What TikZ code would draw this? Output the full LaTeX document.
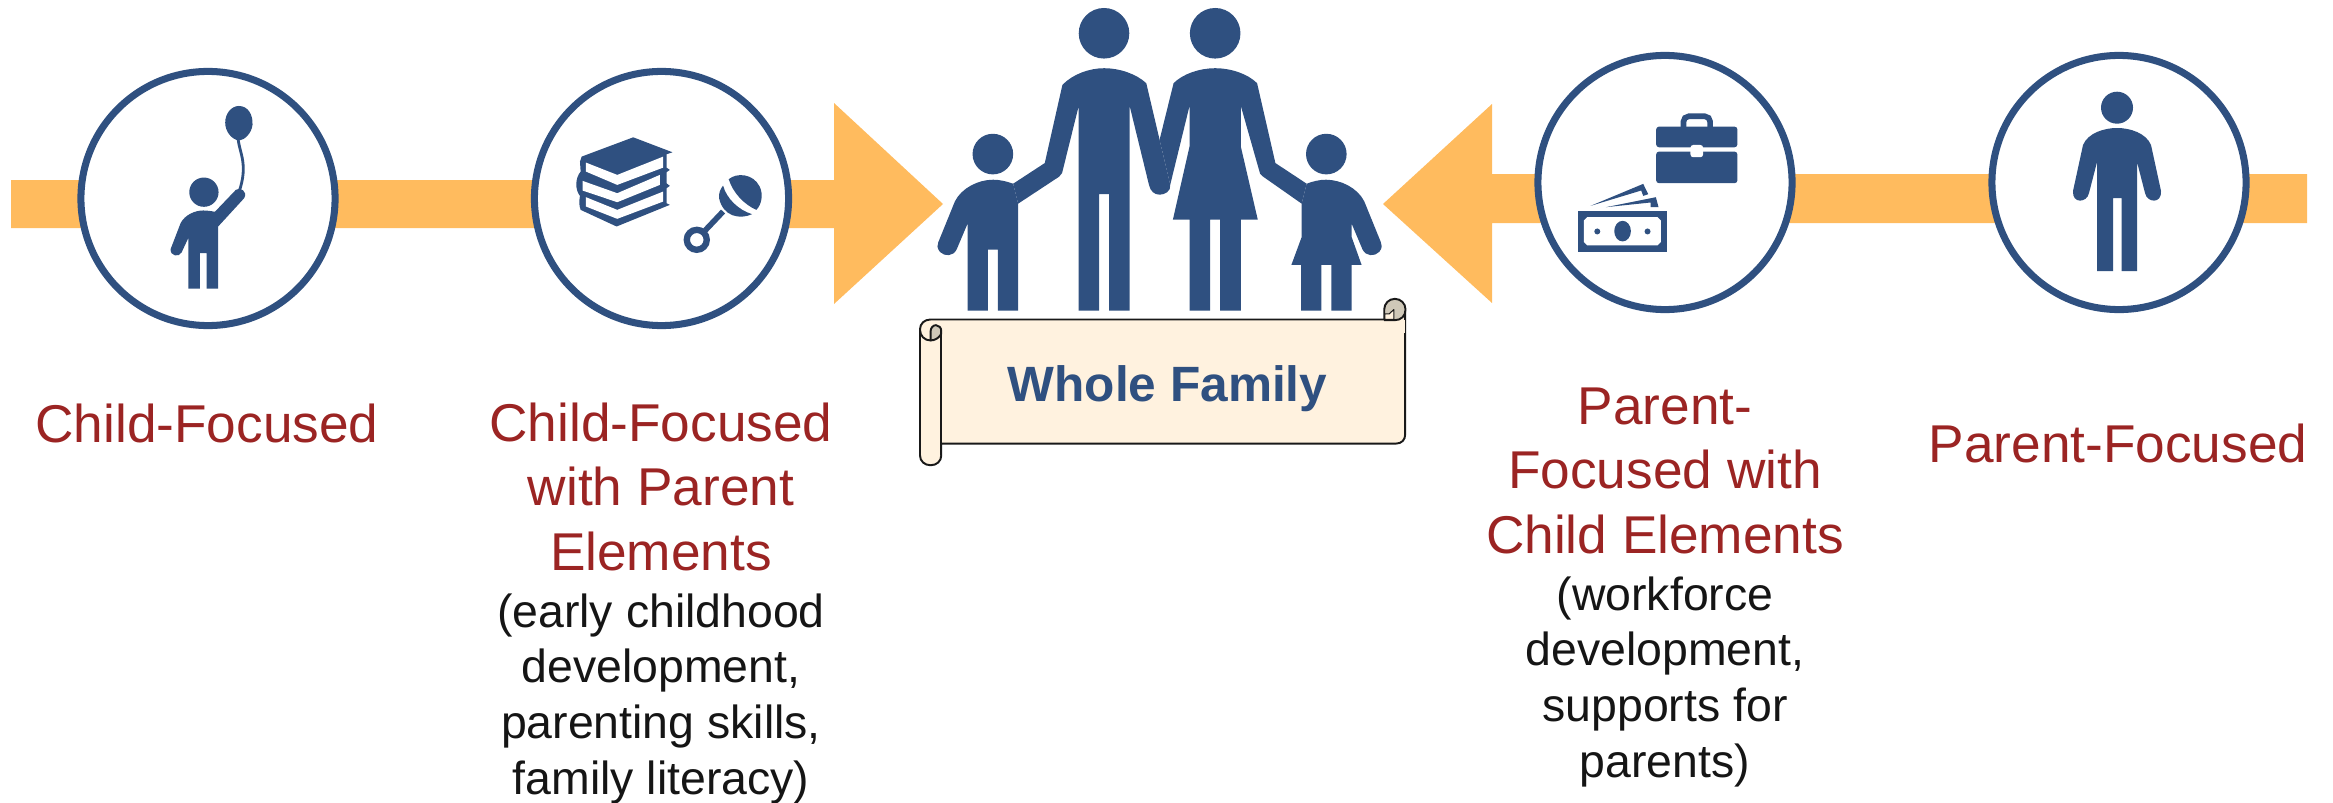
\documentclass[tikz,border=0pt]{standalone}
\usepackage{fontspec}
\setmainfont{Liberation Sans}
\definecolor{navy}{HTML}{2F5080}
\definecolor{amber}{HTML}{FFBB5E}
\definecolor{brick}{HTML}{9B2423}
\definecolor{parch}{HTML}{FFF2DF}
\definecolor{curl}{HTML}{CFC8B8}
\definecolor{ink}{HTML}{151515}
\tikzset{
  zoomed/.style={shift={(#1)},x=0.0033333cm,y=-0.0033333cm},
  ring/.style={circle,draw=navy,line width=2pt,fill=white,minimum size=2.54cm,inner sep=0pt,outer sep=0pt},
  redlabel/.style={anchor=base,align=center,text=brick,inner sep=0pt,font=\fontsize{15.13pt}{18.21pt}\selectfont},
  blacklabel/.style={anchor=base,align=center,text=ink,inner sep=0pt,font=\fontsize{13.2pt}{15.79pt}\selectfont},
  scrollline/.style={draw=black!90,line width=0.55pt,line join=round}
}
\begin{document}
\begin{tikzpicture}[x=0.01cm,y=-0.01cm]
\useasboundingbox (0,0) rectangle (2333,803);
% arrows
\fill[amber] (11,180) -- (834,180) -- (834,103) -- (943,204) -- (834,304) -- (834,228) -- (11,228) -- cycle;
\fill[amber] (2307,174) -- (1492,174) -- (1492,104) -- (1383,204) -- (1492,303) -- (1492,223) -- (2307,223) -- cycle;
% circles
\node[ring] (c1) at (208,198.5) {};
\node[ring] (c2) at (661.5,198.5) {};
\node[ring] (c3) at (1665,182.5) {};
\node[ring] (c4) at (2119,182.5) {};
% child with balloon
\begin{scope}[zoomed={150,90}]
\fill[navy] (162,307) circle (44);
\fill[navy] (267,48) .. controls (295,48) and (310,75) .. (308,105) .. controls (305,130) and (285,150) .. (267,152) .. controls (245,148) and (226,125) .. (226,98) .. controls (226,70) and (245,48) .. (267,48) -- cycle;
\draw[navy,line width=0.8pt] (265,150) .. controls (270,190) and (295,225) .. (268,305);
\fill[navy] (115,597) -- (115,445) -- (95,488) .. controls (88,503) and (60,500) .. (62,478) -- (92,400) .. controls (105,375) and (135,362) .. (160,362) .. controls (172,362) and (185,364) .. (195,366) -- (258,300) .. controls (270,290) and (295,305) .. (283,325) -- (205,410) -- (205,597) -- (170,597) -- (170,490) -- (150,490) -- (150,597) -- cycle;
\end{scope}
% books and rattle
\begin{scope}[zoomed={560,120}]
\fill[navy] (65,110) -- (220,52) -- (338,97) -- (320,103) -- (320,143) -- (330,150) -- (320,157) -- (320,190) -- (330,198) -- (320,205) -- (320,250) -- (330,255) -- (170,320) -- (62,270) .. controls (56,255) and (58,240) .. (60,228) .. controls (45,210) and (45,175) .. (62,155) -- (60,125) -- cycle;
\fill[white] (78,128) -- (172,165) -- (310,110) -- (310,143) -- (172,195) -- (78,155) -- cycle;
\fill[white] (68,183) -- (172,220) -- (300,165) -- (300,195) -- (172,247) -- (68,212) -- cycle;
\fill[white] (78,232) -- (172,270) -- (310,215) -- (310,245) -- (172,297) -- (78,260) -- cycle;
\draw[navy,line width=1.8pt] (411,360) circle (30);
\draw[navy,line width=1.6pt] (436,332) -- (490,275);
\fill[navy] (490,197) .. controls (500,235) and (535,270) .. (577,283) .. controls (540,300) and (490,290) .. (478,235) .. controls (476,220) and (482,208) .. (490,197) -- cycle;
\fill[navy] (507,178) .. controls (530,158) and (580,160) .. (600,200) .. controls (612,225) and (605,255) .. (590,270) .. controls (555,255) and (520,220) .. (507,178) -- cycle;
\end{scope}
% briefcase and money
\begin{scope}[zoomed={1560,100}]
\draw[navy,line width=1.6pt,rounded corners=1.5pt] (371,85) -- (371,49) -- (451,49) -- (451,85);
\fill[navy,rounded corners=0.8pt] (289,142) -- (289,80) -- (533,80) -- (533,142) -- cycle;
\fill[navy,rounded corners=0.8pt] (289,155) -- (289,250) -- (533,250) -- (533,155) -- cycle;
\fill[white,rounded corners=0.8pt] (392,135) -- (430,135) -- (430,172) -- (392,172) -- cycle;
\fill[navy] (54,333) rectangle (321,456);
\fill[white] (82,352) -- (293,352) -- (303,362) -- (303,427) -- (293,437) -- (82,437) -- (72,427) -- (72,362) -- cycle;
\fill[navy] (188,394) circle [x radius=25,y radius=31];
\fill[navy] (112,395) circle (9);
\fill[navy] (263,395) circle (9);
\fill[navy] (92,318) -- (250,252) -- (265,283) -- (250,288) -- (244,272) -- cycle;
\fill[navy] (138,322) -- (288,292) -- (296,322) -- (272,322) -- (272,308) -- cycle;
\end{scope}
% parent figure
\fill[navy] (2117,107.7) circle (16);
\fill[navy] (2097,271) -- (2097,162) -- (2089,193) .. controls (2087,203) and (2072,204) .. (2073,191) -- (2083,145) .. controls (2088,133) and (2104,128) .. (2117,128) .. controls (2130,128) and (2146,133) .. (2151,145) -- (2161,191) .. controls (2162,204) and (2147,203) .. (2145,193) -- (2137,162) -- (2137,271) -- (2121.5,271) -- (2121.5,198) -- (2113,198) -- (2113,271) -- cycle;
% family
\begin{scope}[zoomed={900,0}]
\fill[navy] (613,100) circle (76);
\fill[navy] (947,100) circle (76);
\fill[navy] (279,463) circle (61);
\fill[navy] (1281,463) circle (61);
% man
\fill[navy] (537,933) -- (537,318) -- (487,520) -- (478,531) -- (355,612) -- (340,552) -- (435,490) -- (488,255) .. controls (520,222) and (570,205) .. (613,205) .. controls (660,205) and (710,222) .. (740,250) -- (780,420) -- (812,555) .. controls (815,575) and (795,585) .. (780,585) .. controls (765,585) and (752,575) .. (748,555) -- (690,318) -- (690,933) -- (628,933) -- (628,583) -- (598,583) -- (598,933) -- cycle;
% woman
\fill[navy] (870,933) -- (870,660) -- (820,660) -- (870,440) -- (870,318) -- (812,555) -- (780,420) -- (822,250) .. controls (850,222) and (900,205) .. (947,205) .. controls (995,205) and (1045,222) .. (1073,250) -- (1128,490) -- (1222,552) -- (1207,612) -- (1090,530) -- (1082,522) -- (1024,318) -- (1024,440) -- (1075,660) -- (1024,660) -- (1024,933) -- (962,933) -- (962,660) -- (932,660) -- (932,933) -- cycle;
% boy
\fill[navy] (203,933) -- (203,672) -- (170,750) .. controls (160,770) and (135,772) .. (120,757) .. controls (110,745) and (112,735) .. (115,728) -- (165,605) .. controls (185,565) and (235,540) .. (280,540) .. controls (300,540) and (320,545) .. (340,552) -- (355,612) -- (355,933) -- (294,933) -- (294,750) -- (264,750) -- (264,933) -- cycle;
% girl
\fill[navy] (1207,612) -- (1207,712) -- (1176,796) -- (1205,796) -- (1205,933) -- (1266,933) -- (1266,796) -- (1296,796) -- (1296,933) -- (1357,933) -- (1357,796) -- (1387,796) -- (1357,712) -- (1357,672) -- (1390,750) .. controls (1400,770) and (1425,772) .. (1440,757) .. controls (1450,745) and (1448,735) .. (1445,728) -- (1395,605) .. controls (1375,565) and (1325,540) .. (1280,540) .. controls (1260,540) and (1240,545) .. (1222,552) -- cycle;
% scroll body
\path[scrollline,fill=parch] (60,990) .. controls (60,972) and (74,960) .. (92,960) -- (1455,960) -- (1518,935) -- (1518,1305) .. controls (1518,1322) and (1507,1333) .. (1490,1333) -- (124,1333) -- (124,1368) .. controls (124,1386) and (110,1398) .. (92,1398) .. controls (74,1398) and (60,1386) .. (60,1368) -- cycle;
\fill[parch] (1450,962) rectangle (1516.5,1000);
\draw[scrollline] (92,960) -- (1455,960);
% right curl
\path[scrollline,fill=curl] (1455,962) -- (1455,930) .. controls (1455,912) and (1469,898) .. (1487,898) .. controls (1505,898) and (1519,912) .. (1519,930) .. controls (1519,950) and (1505,962) .. (1487,962) -- cycle;
\path[scrollline,fill=parch,line width=0.3pt] (1457,960) -- (1457,943) -- (1470,943) -- (1484,930) -- (1484,960) -- cycle;
\draw[scrollline] (1455,961) -- (1490,961);
% left curl
\path[scrollline,fill=curl] (92,1023) -- (92,995) .. controls (92,985) and (100,977) .. (108,977) .. controls (117,977) and (124,985) .. (124,995) -- (124,1003) .. controls (118,1015) and (105,1023) .. (92,1023) -- cycle;
\draw[scrollline] (60,990) .. controls (60,1010) and (74,1023) .. (92,1023);
\draw[scrollline] (124,995) -- (124,1368);
\end{scope}
\node[anchor=base,inner sep=0pt,text=navy,font=\fontsize{14.1pt}{17pt}\selectfont\bfseries] (whole) at (1167.5,401) {Whole Family};
% labels
\node[redlabel] (l1) at (207,442) {Child-Focused};
\node[redlabel] (l2) at (661,570) {Child-Focused\\with Parent\\Elements};
\node[blacklabel] (l2b) at (661,794) {(early childhood\\development,\\parenting skills,\\family literacy)};
\node[redlabel] (l3) at (1665,553) {Parent-\\Focused with\\Child Elements};
\node[blacklabel] (l3b) at (1665,777) {(workforce\\development,\\supports for\\parents)};
\node[redlabel] (l4) at (2118,462) {Parent-Focused};
\end{tikzpicture}
\end{document}
